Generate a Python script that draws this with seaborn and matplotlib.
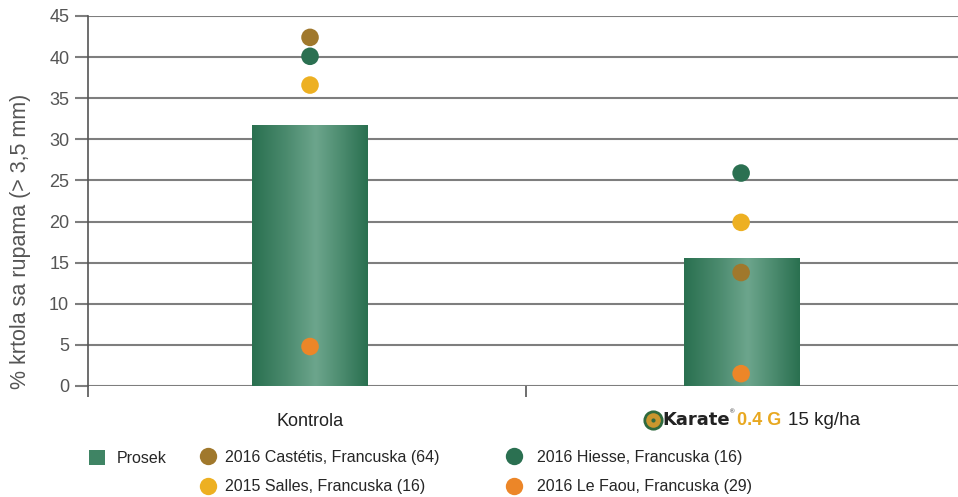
import numpy as np
import pandas as pd
import matplotlib
matplotlib.use('Agg')
import matplotlib.pyplot as plt
import matplotlib.transforms as mtransforms
from matplotlib.patches import Patch
from matplotlib.lines import Line2D
import seaborn as sns

# podaci
treatments = ['Kontrola', 'Karate 0.4 G']
prosek = [31.7, 15.6]
sites = ['2016 Castétis, Francuska (64)', '2016 Hiesse, Francuska (16)',
         '2015 Salles, Francuska (16)', '2016 Le Faou, Francuska (29)']
kontrola_vals = [42.4, 40.1, 36.6, 4.8]
karate_vals = [13.8, 25.9, 19.9, 1.5]
site_colors = ['#A0782C', '#2B7051', '#EDB022', '#EC8628']

sns.set_style('white')
plt.rcParams['font.family'] = ['Liberation Sans', 'DejaVu Sans']

bars = pd.DataFrame({'tretman': treatments, 'prosek': prosek})
dots = pd.DataFrame({
    'tretman': [treatments[0]] * 4 + [treatments[1]] * 4,
    'lokacija': sites * 2,
    'vrednost': kontrola_vals + karate_vals,
})

fig = plt.figure(figsize=(9.58, 4.97), dpi=100)
ax = fig.add_axes([88 / 958, 1 - 386 / 497, (961 - 88) / 958, (386 - 16) / 497])

sns.barplot(data=bars, x='tretman', y='prosek', color='#3F8464', width=0.267,
            ax=ax, zorder=2)

# gradijent na stubovima
prof = np.interp(np.linspace(0, 1, 200), [0, 0.3, 0.55, 0.8, 1], [0, 0.5, 1, 0.45, 0])
cmap = matplotlib.colors.LinearSegmentedColormap.from_list('g', ['#2A7050', '#6CA58C'])
for p in ax.patches:
    x0, y0 = p.get_x(), p.get_y()
    w, h = p.get_width(), p.get_height()
    im = ax.imshow(prof[None, :], cmap=cmap, aspect='auto',
                   extent=[x0, x0 + w, y0, y0 + h], zorder=2.5)
    im.set_clip_path(p)
    p.set_facecolor('none')
    p.set_edgecolor('none')

sns.scatterplot(data=dots, x='tretman', y='vrednost', hue='lokacija',
                palette=dict(zip(sites, site_colors)), s=160, linewidth=0,
                ax=ax, zorder=3, legend=False)

ax.set_xlim(-0.515, 1.51)
ax.set_ylim(0, 45)
ax.set_yticks(range(0, 50, 5))
ax.yaxis.grid(True, color='#7E7E7E', linewidth=1.5, zorder=0)
ax.set_axisbelow(True)
for s in ['top', 'right', 'bottom']:
    ax.spines[s].set_visible(False)
ax.spines['left'].set_color('#555555')
ax.spines['left'].set_linewidth(1.2)
ax.tick_params(axis='y', left=True, length=9.5, color='#7E7E7E', width=1.5,
               labelsize=13, labelcolor='#555555', pad=4)

# granice kategorija ispod ose
ax.set_xticks([-0.515, 0.5], minor=True)
ax.tick_params(axis='x', which='minor', bottom=True, length=8, color='#555555',
               width=1.2)
ax.set_xticks([0, 1])
ax.set_xticklabels(['Kontrola', ''])
ax.tick_params(axis='x', which='major', bottom=False, length=0, labelsize=13,
               labelcolor='#222222', pad=19.5)
ax.set_xlabel('')
ax.set_ylabel('% krtola sa rupama (> 3,5 mm)', fontsize=15.5, color='#555555')
ax.yaxis.set_label_coords(-0.065, 0.39)

# oznaka Karate 0.4 G
trans = mtransforms.blended_transform_factory(ax.transData, ax.transAxes)
ylab = -0.093
shift = mtransforms.ScaledTranslation(-88 / 100, 0, fig.dpi_scale_trans)
ax.plot([1], [ylab], transform=trans + shift, marker='o', markersize=12.5,
        markerfacecolor='#C9962E', markeredgecolor='#2F6A3E', markeredgewidth=2,
        clip_on=False, zorder=5)
ax.plot([1], [ylab], transform=trans + shift, marker='o', markersize=3,
        markerfacecolor='#2F6A3E', markeredgecolor='none', clip_on=False,
        zorder=6)
ax.annotate('Karate', xy=(1, ylab), xycoords=trans, xytext=(-79, 0),
            textcoords='offset pixels', ha='left', va='center', fontsize=13,
            fontweight='bold', family='DejaVu Sans', color='#222222',
            annotation_clip=False)
ax.annotate('®', xy=(1, ylab), xycoords=trans, xytext=(-11, 9),
            textcoords='offset pixels', ha='left', va='center', fontsize=4.5,
            color='#222222', annotation_clip=False)
ax.annotate('0.4 G', xy=(1, ylab), xycoords=trans, xytext=(-4, 0),
            textcoords='offset pixels', ha='left', va='center', fontsize=13,
            fontweight='bold', color='#E8A820', annotation_clip=False)
ax.annotate('15 kg/ha', xy=(1, ylab), xycoords=trans, xytext=(47, 0),
            textcoords='offset pixels', ha='left', va='center', fontsize=13.5,
            color='#222222', annotation_clip=False)

# legenda u tri kolone
def dot(c):
    return Line2D([], [], linestyle='none', marker='o', markersize=12.5,
                  markerfacecolor=c, markeredgecolor='none')

leg_kw = dict(loc='upper left', frameon=False, fontsize=11.5, borderpad=0,
              borderaxespad=0, labelspacing=0.9, handlelength=1.1)
top = 1 - 450 / 497
fig.legend([Patch(facecolor='#3F8464', edgecolor='none')], ['Prosek'],
           bbox_to_anchor=(89 / 958, top), handletextpad=0.75,
           handleheight=1.1, **{**leg_kw, 'handlelength': 1.0})
fig.legend([dot(site_colors[0]), dot(site_colors[2])], [sites[0], sites[2]],
           bbox_to_anchor=(199 / 958, top), handletextpad=0.53, **leg_kw)
fig.legend([dot(site_colors[1]), dot(site_colors[3])], [sites[1], sites[3]],
           bbox_to_anchor=(505 / 958, top), handletextpad=0.88, **leg_kw)

fig.savefig('out.png', dpi=100)
